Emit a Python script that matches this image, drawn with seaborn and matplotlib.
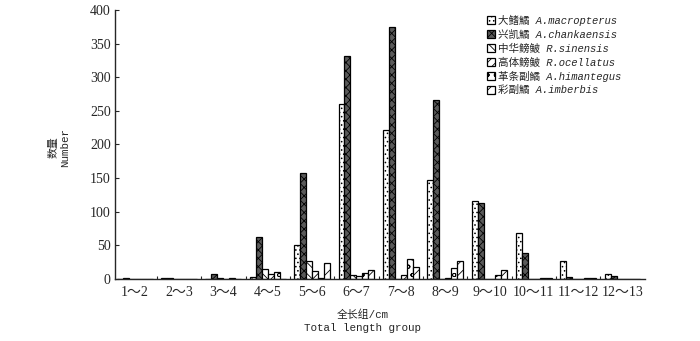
import pandas as pd
import seaborn as sns
import matplotlib.pyplot as plt

groups = ['1～2', '2～3', '3～4', '4～5', '5～6', '6～7', '7～8', '8～9', '9～10', '10～11', '11～12', '12～13']
species = ['大鳍鱊 A.macropterus', '兴凯鱊 A.chankaensis', '中华鳑鲏 R.sinensis',
           '高体鳑鲏 R.ocellatus', '革条副鱊 A.himantegus', '彩副鱊 A.imberbis']
macropterus = [0, 1, 0, 3, 50, 260, 222, 147, 116, 68, 27, 7]
chankaensis = [1, 1, 8, 63, 157, 332, 375, 266, 113, 39, 3, 5]
sinensis = [0, 0, 1, 15, 27, 6, 0, 0, 0, 0, 0, 0]
ocellatus = [0, 0, 0, 8, 12, 4, 6, 1, 0, 0, 0, 0]
himantegus = [0, 0, 1, 11, 1, 9, 29, 16, 6, 1, 1, 0]
imberbis = [0, 0, 0, 0, 24, 13, 18, 26, 13, 1, 1, 0]

valori = [macropterus, chankaensis, sinensis, ocellatus, himantegus, imberbis]
righe = []
for sp, vals in zip(species, valori):
    for g, v in zip(groups, vals):
        righe.append({'group': g, 'species': sp, 'count': v})
df = pd.DataFrame(righe)

sns.set_style('ticks')
plt.rcParams['hatch.linewidth'] = 0.6
serif = ['Liberation Serif', 'Noto Sans CJK SC']
mono = ['Liberation Mono', 'Noto Sans CJK SC']

fig = plt.figure(figsize=(7, 3.41), dpi=100)
ax = fig.add_axes([0.164, 0.182, 0.757, 0.789])

sns.barplot(data=df, x='group', y='count', hue='species', hue_order=species,
            order=groups, width=0.81, ax=ax, legend=False, errorbar=None)

stili = [('white', '....'), ('#5a5a5a', 'xxxx'), ('white', '\\\\\\'),
         ('white', '////'), ('white', 'oo'), ('white', '///')]
for cont, (fc, h) in zip(ax.containers, stili):
    for p in cont.patches:
        p.set_facecolor(fc)
        p.set_edgecolor('black')
        p.set_linewidth(0.9)
        p.set_hatch(h)

ax.set_ylim(0, 400)
ax.set_xlim(-0.45, 11.5)
ax.set_yticks(range(0, 401, 50))
ax.tick_params(axis='y', direction='in', length=3, width=0.8, pad=3)
ax.tick_params(axis='x', which='major', length=0, pad=5)
ax.set_xticks([i + 0.5 for i in range(11)], minor=True)
ax.tick_params(axis='x', which='minor', direction='in', length=2, width=0.8)
for t in ax.get_xticklabels() + ax.get_yticklabels():
    t.set_family(serif)
    t.set_fontsize(10)

sns.despine(ax=ax)
ax.spines['left'].set_linewidth(1)
ax.spines['bottom'].set_linewidth(1)

ax.set_xlabel('全长组/cm\nTotal length group', family=mono, fontsize=7.8, linespacing=1.35)
ax.xaxis.set_label_coords(0.468, -0.115)
ax.set_ylabel('数量\nNumber', family=mono, fontsize=7.8, linespacing=1.1)
ax.yaxis.set_label_coords(-0.085, 0.49)

leg = ax.legend(ax.containers, species, loc='upper left',
                bbox_to_anchor=(487 / 700, 1 - 15 / 341), bbox_transform=fig.transFigure,
                frameon=False, handlelength=0.8, handleheight=0.8, handletextpad=0.25,
                labelspacing=0.33, borderaxespad=0, borderpad=0,
                prop={'family': mono, 'size': 7.6, 'style': 'italic'})

plt.savefig('out.png', dpi=100)
plt.close()
